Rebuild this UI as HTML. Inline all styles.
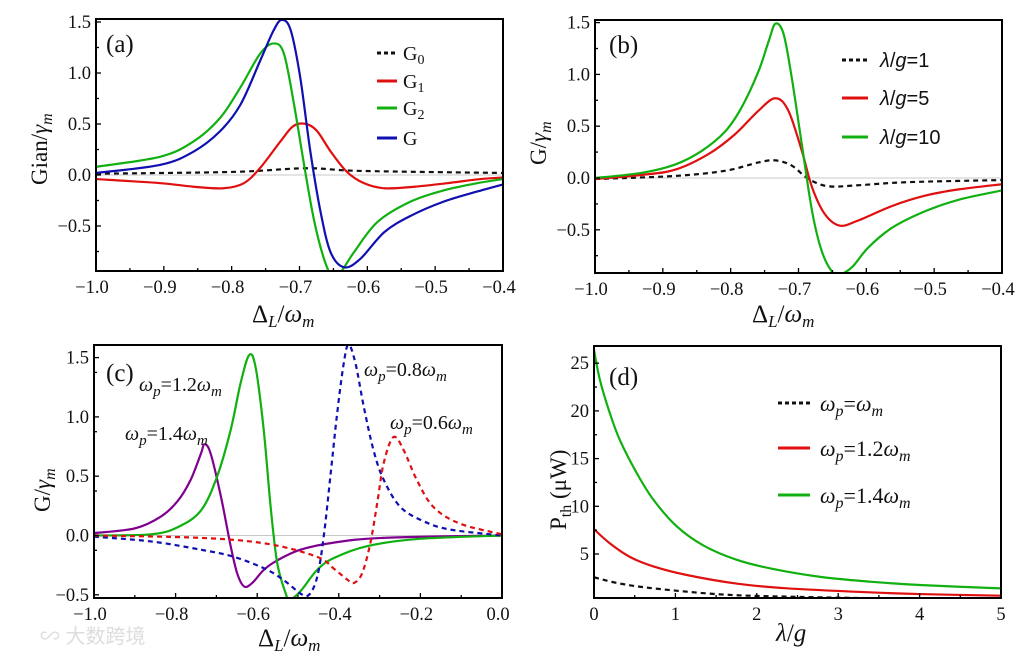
<!DOCTYPE html>
<html><head><meta charset="utf-8"><style>
html,body{margin:0;padding:0;background:#fff;}
svg{display:block;font-family:"Liberation Serif",serif;}
.tk{font-size:18.5px;fill:#111;}
</style></head><body>
<svg id="fig" width="1015" height="656" viewBox="0 0 1015 656" xmlns="http://www.w3.org/2000/svg">
<text x="40" y="643" font-family="'Liberation Sans','Noto Sans CJK SC',sans-serif" font-size="20" fill="#ddd">∽ 大数跨境</text>
</svg>
<script>
// ---------- Panel (a) data ----------
const aX_G0 = [-1.0,-0.8,-0.69,-0.61,-0.4];
const aY_G0 = [0.013,0.03,0.066,0.04,0.02];
const aX_G1 = [-1.0,-0.905,-0.856,-0.812,-0.782,-0.758,-0.728,-0.709,-0.69,-0.674,-0.654,-0.63,-0.605,-0.575,-0.531,-0.482,-0.433,-0.39];
const aY_G1 = [-0.04,-0.08,-0.115,-0.13,-0.08,0.07,0.33,0.48,0.5,0.43,0.23,0.03,-0.08,-0.13,-0.115,-0.08,-0.04,-0.02];
const aX_G2 = [-1.0,-0.905,-0.856,-0.817,-0.787,-0.758,-0.738,-0.723,-0.708,-0.694,-0.679,-0.664,-0.652,-0.64,-0.62,-0.585,-0.536,-0.487,-0.438,-0.39];
const aY_G2 = [0.08,0.18,0.33,0.56,0.86,1.19,1.29,1.19,0.69,0.13,-0.43,-0.82,-0.99,-0.96,-0.76,-0.46,-0.26,-0.15,-0.08,-0.03];
const aX_G = [-1.0,-0.905,-0.856,-0.817,-0.787,-0.758,-0.738,-0.726,-0.713,-0.699,-0.684,-0.669,-0.654,-0.634,-0.61,-0.575,-0.536,-0.487,-0.437,-0.393];
const aY_G = [0.02,0.1,0.23,0.43,0.69,1.12,1.42,1.52,1.42,0.96,0.23,-0.36,-0.76,-0.905,-0.82,-0.56,-0.4,-0.26,-0.16,-0.08];
// ---------- Panel (b) data ----------
const bX_L1 = [-1.0,-0.882,-0.808,-0.759,-0.734,-0.71,-0.685,-0.656,-0.612,-0.538,-0.4];
const bY_L1 = [-0.01,0.02,0.07,0.15,0.17,0.12,-0.01,-0.08,-0.07,-0.04,-0.02];
const bX_L5 = [-1.0,-0.931,-0.882,-0.833,-0.794,-0.759,-0.734,-0.715,-0.695,-0.68,-0.661,-0.639,-0.612,-0.562,-0.513,-0.464,-0.4];
const bY_L5 = [-0.01,0.03,0.08,0.23,0.42,0.65,0.77,0.65,0.26,-0.09,-0.35,-0.46,-0.41,-0.27,-0.17,-0.11,-0.06];
const bX_L10 = [-1.0,-0.931,-0.882,-0.843,-0.808,-0.784,-0.759,-0.744,-0.734,-0.722,-0.71,-0.695,-0.68,-0.666,-0.651,-0.639,-0.621,-0.597,-0.562,-0.513,-0.464,-0.4];
const bY_L10 = [0.0,0.05,0.13,0.26,0.45,0.68,1.03,1.32,1.49,1.39,0.97,0.32,-0.32,-0.7,-0.9,-0.93,-0.86,-0.67,-0.48,-0.32,-0.21,-0.12];
// ---------- Panel (c) data ----------
const cX_14 = [-1.0,-0.9,-0.836,-0.795,-0.763,-0.738,-0.729,-0.714,-0.689,-0.665,-0.649,-0.632,-0.612,-0.584,-0.551,-0.494,-0.412,-0.29,0.0];
const cY_14 = [0.02,0.06,0.16,0.29,0.47,0.69,0.77,0.69,0.33,-0.09,-0.32,-0.43,-0.4,-0.29,-0.21,-0.12,-0.06,-0.02,0.0];
const cX_12 = [-1.0,-0.86,-0.795,-0.738,-0.698,-0.665,-0.641,-0.62,-0.604,-0.584,-0.567,-0.551,-0.53,-0.52,-0.494,-0.453,-0.412,-0.331,-0.209,0.0];
const cY_12 = [0.0,0.01,0.07,0.21,0.5,0.89,1.28,1.52,1.42,0.89,0.24,-0.23,-0.49,-0.54,-0.47,-0.29,-0.19,-0.09,-0.03,0.0];
const cX_08 = [-1.0,-0.86,-0.738,-0.657,-0.575,-0.526,-0.494,-0.473,-0.453,-0.437,-0.42,-0.404,-0.388,-0.376,-0.359,-0.339,-0.315,-0.29,-0.249,-0.192,-0.127,0.0];
const cY_08 = [-0.01,-0.05,-0.12,-0.18,-0.29,-0.4,-0.49,-0.5,-0.35,-0.01,0.52,1.03,1.45,1.61,1.45,1.09,0.72,0.47,0.24,0.12,0.05,0.0];
const cX_06 = [-1.0,-0.738,-0.575,-0.453,-0.412,-0.38,-0.363,-0.343,-0.323,-0.306,-0.29,-0.266,-0.241,-0.209,-0.168,-0.103,0.0];
const cY_06 = [0.0,-0.02,-0.07,-0.18,-0.28,-0.37,-0.4,-0.32,-0.07,0.27,0.61,0.83,0.72,0.47,0.24,0.1,0.01];
// ---------- Panel (d) data ----------
const dX_10 = [0,0.32,0.73,1.55,2.37,3.6,5];
const dY_10 = [2.55,1.9,1.4,0.77,0.53,0.35,0.28];
const dX_12 = [0,0.197,0.44,0.73,1.14,1.75,2.37,3.19,4.0,5];
const dY_12 = [7.6,6.1,4.7,3.7,2.8,1.9,1.4,1.05,0.8,0.63];
const dX_14 = [0,0.074,0.197,0.32,0.524,0.729,1.016,1.343,1.75,2.16,2.78,3.39,4.0,5];
const dY_14 = [26.4,23.2,19.7,16.9,13.5,10.7,7.9,5.9,4.4,3.5,2.6,2.1,1.75,1.4];
// ---------- tick arrays ----------
const ticksA_x = [-1.0,-0.9,-0.8,-0.7,-0.6,-0.5,-0.4];
const ticksA_y = [1.5,1.0,0.5,0.0,-0.5];
const ticksC_x = [-1.0,-0.8,-0.6,-0.4,-0.2,0.0];
const ticksD_x = [0,1,2,3,4,5];
const ticksD_y = [25,20,15,10,5];

const NS='http://www.w3.org/2000/svg';
const svg=document.getElementById('fig');
function mk(tag,attrs,parent){const e=document.createElementNS(NS,tag);for(const k in attrs)e.setAttribute(k,attrs[k]);(parent||svg).appendChild(e);return e;}
function fmt(v){return (v<0?'\u2212':'')+Math.abs(v).toFixed(1);}

function panel(p){
  const g=mk('g',{});
  
  
  const X=v=>p.x0+(v-p.xmin)/(p.xmax-p.xmin)*(p.x1-p.x0);
  const Y=v=>p.yz-(v)*p.ys;
  const cid='clip-'+p.name;
  const cp=mk('clipPath',{id:cid},g);
  mk('rect',{x:p.x0,y:p.y0,width:p.x1-p.x0,height:p.y1-p.y0},cp);
  if(p.zero){const zl=mk('line',{x1:p.x0,x2:p.x1,y1:Y(0),y2:Y(0),stroke:'#c8c8c8','stroke-width':1},g);
    
    }
  const sg=mk('g',{'clip-path':'url(#'+cid+')'},g);
  p.series.forEach(s=>{
    const pts=s.xs.map((x,i)=>[X(x),Y(s.ys[i])]);
    let d='M'+pts[0][0].toFixed(2)+','+pts[0][1].toFixed(2);
    for(let i=0;i<pts.length-1;i++){
      const p0=pts[Math.max(0,i-1)],p1=pts[i],p2=pts[i+1],p3=pts[Math.min(pts.length-1,i+2)];
      const c1=[p1[0]+(p2[0]-p0[0])/6,p1[1]+(p2[1]-p0[1])/6];
      const c2=[p2[0]-(p3[0]-p1[0])/6,p2[1]-(p3[1]-p1[1])/6];
      d+=' C'+c1.map(v=>v.toFixed(2)).join(',')+' '+c2.map(v=>v.toFixed(2)).join(',')+' '+p2[0].toFixed(2)+','+p2[1].toFixed(2);
    }
    const a={d:d,fill:'none',stroke:s.color,'stroke-width':2.2,'stroke-linejoin':'round'};
    if(s.dash)a['stroke-dasharray']='5,4';
    const path=mk('path',a,sg);
    
    
  });
  const fr=mk('rect',{x:p.x0,y:p.y0,width:p.x1-p.x0,height:p.y1-p.y0,fill:'none',stroke:'#000','stroke-width':2},g);
  
  
  const xt=p.xticks;
  for(let i=0;i<xt.length;i++){
    const x=X(xt[i]);
    mk('line',{x1:x,x2:x,y1:p.y1,y2:p.y1-5,stroke:'#000','stroke-width':1.3},g);
    if(i<xt.length-1){const xm=X((xt[i]+xt[i+1])/2);mk('line',{x1:xm,x2:xm,y1:p.y1,y2:p.y1-3,stroke:'#000','stroke-width':1.3},g);}
    const t=mk('text',{x:x+(p.xint?0:-4),y:p.y1+22,'text-anchor':'middle',class:'tk'},g);
    t.textContent=p.xint?String(xt[i]):fmt(xt[i]);
    
    
  }
  const yt=p.yticks;
  for(let i=0;i<yt.length;i++){
    const y=Y(yt[i]);
    mk('line',{x1:p.x0,x2:p.x0+5,y1:y,y2:y,stroke:'#000','stroke-width':1.3},g);
    const ym=Y(yt[i]-p.ystep/2);
    if(ym<p.y1-2)mk('line',{x1:p.x0,x2:p.x0+3,y1:ym,y2:ym,stroke:'#000','stroke-width':1.3},g);
    const t=mk('text',{x:p.x0-5,y:y+6,'text-anchor':'end',class:'tk'},g);
    t.textContent=p.yint?String(yt[i]):fmt(yt[i]);
    
    
  }
  return g;
}
function html(g,x,y,size,content,name,extra){
  const t=mk('text',Object.assign({x:x,y:y,'font-size':size,fill:'#111'},extra||{}),g);
  t.innerHTML=content;
  
  
  return t;
}
function legLine(g,x1,x2,y,color,dash,name){
  const a={x1:x1,x2:x2,y1:y,y2:y,stroke:color,'stroke-width':3};
  if(dash)a['stroke-dasharray']='4,3';
  const l=mk('line',a,g);
  
  
}
const DL='Δ<tspan font-style="italic" font-size="17" dy="5">L</tspan><tspan dy="-5">/</tspan><tspan font-style="italic">ω</tspan><tspan font-style="italic" font-size="17" dy="5">m</tspan>';

// Panel a
const ga=panel({name:'panel-a',x0:96,x1:503,y0:19,y1:271,xmin:-1,xmax:-0.4,yz:175,ys:102,xticks:ticksA_x,yticks:ticksA_y,ystep:0.5,zero:true,
 series:[{name:'series-g0',xs:aX_G0,ys:aY_G0,color:'#111',dash:true},{name:'series-g1',xs:aX_G1,ys:aY_G1,color:'#e01010'},{name:'series-g2',xs:aX_G2,ys:aY_G2,color:'#10b010'},{name:'series-g',xs:aX_G,ys:aY_G,color:'#1010b0'}]});
html(ga,106,52,25,'(a)','panel-label-a');
html(ga,252,322,25,DL,'x-axis-title-a');
html(ga,0,0,23,'Gian/<tspan font-style="italic">γ</tspan><tspan font-style="italic" font-size="16" dy="5">m</tspan>','y-axis-title-a',{transform:'translate(47,185) rotate(-90)'});
[['G<tspan font-size="14" dy="4">0</tspan>','#111',true,53],['G<tspan font-size="14" dy="4">1</tspan>','#e01010',false,81],['G<tspan font-size="14" dy="4">2</tspan>','#10b010',false,108],['G','#1010b0',false,138]].forEach((e,i)=>{
  legLine(ga,377,397,e[3],e[1],e[2],'legend-line-a');
  html(ga,403,e[3]+7,20,e[0],'legend-entry-a');
});

// Panel b
const gb=panel({name:'panel-b',x0:595,x1:1002,y0:20,y1:273,xmin:-1,xmax:-0.4,yz:178,ys:103.6,xticks:ticksA_x,yticks:ticksA_y,ystep:0.5,zero:true,
 series:[{name:'series-lambda1',xs:bX_L1,ys:bY_L1,color:'#111',dash:true},{name:'series-lambda5',xs:bX_L5,ys:bY_L5,color:'#e01010'},{name:'series-lambda10',xs:bX_L10,ys:bY_L10,color:'#10b010'}]});
html(gb,609,53,25,'(b)','panel-label-b');
html(gb,752,322,25,DL,'x-axis-title-b');
html(gb,0,0,23,'G/<tspan font-style="italic">γ</tspan><tspan font-style="italic" font-size="16" dy="5">m</tspan>','y-axis-title-b',{transform:'translate(546,165) rotate(-90)'});
[['1','#111',true,60],['5','#e01010',false,98],['10','#10b010',false,137]].forEach(e=>{
  legLine(gb,842,868,e[3],e[1],e[2],'legend-line-b');
  html(gb,880,e[3]+7,20,'<tspan font-style="italic">λ</tspan>/<tspan font-style="italic">g</tspan>='+e[0],'legend-entry-b',{'font-family':'"Liberation Sans",sans-serif'});
});

// Panel c
const gc=panel({name:'panel-c',x0:94,x1:502,y0:345,y1:598,xmin:-1,xmax:0,yz:535.5,ys:118.6,xticks:ticksC_x,yticks:ticksA_y,ystep:0.25,zero:true,
 series:[{name:'series-wp14',xs:cX_14,ys:cY_14,color:'#800090'},{name:'series-wp12',xs:cX_12,ys:cY_12,color:'#10b010'},{name:'series-wp08',xs:cX_08,ys:cY_08,color:'#1010b0',dash:true},{name:'series-wp06',xs:cX_06,ys:cY_06,color:'#e01010',dash:true}]});
html(gc,106,381,25,'(c)','panel-label-c');
html(gc,258,646,25,DL,'x-axis-title-c');
html(gc,0,0,23,'G/<tspan font-style="italic">γ</tspan><tspan font-style="italic" font-size="16" dy="5">m</tspan>','y-axis-title-c',{transform:'translate(50,512) rotate(-90)'});
const W=(a,s)=>'<tspan font-style="italic">ω</tspan><tspan font-style="italic" font-size="'+s+'" dy="5">p</tspan><tspan dy="-5">='+a+'</tspan><tspan font-style="italic">ω</tspan><tspan font-style="italic" font-size="'+s+'" dy="5">m</tspan>';
html(gc,139,391,20,W('1.2',15),'annotation-wp12');
html(gc,125,440,20,W('1.4',15),'annotation-wp14');
html(gc,364,376,20,W('0.8',15),'annotation-wp08');
html(gc,390,429,20,W('0.6',15),'annotation-wp06');

// Panel d
const gd=panel({name:'panel-d',x0:594,x1:1001,y0:346,y1:598,xmin:0,xmax:5,yz:601.7,ys:9.54,xticks:ticksD_x,yticks:ticksD_y,ystep:5,xint:true,yint:true,
 series:[{name:'series-wp-eq',xs:dX_10,ys:dY_10,color:'#111',dash:true},{name:'series-wp-1-2',xs:dX_12,ys:dY_12,color:'#e01010'},{name:'series-wp-1-4',xs:dX_14,ys:dY_14,color:'#10b010'}]});
html(gd,609,385,25,'(d)','panel-label-d');
html(gd,776,641,25,'<tspan font-style="italic">λ</tspan>/<tspan font-style="italic">g</tspan>','x-axis-title-d');
html(gd,0,0,23,'P<tspan font-size="16" dy="5">th</tspan><tspan dy="-5">  (μW)</tspan>','y-axis-title-d',{transform:'translate(566,530) rotate(-90)'});
legLine(gd,778,810,403,'#111',true,'legend-line-d');
html(gd,820,411,22,'<tspan font-style="italic">ω</tspan><tspan font-style="italic" font-size="16" dy="5">p</tspan><tspan dy="-5">=</tspan><tspan font-style="italic">ω</tspan><tspan font-style="italic" font-size="16" dy="5">m</tspan>','legend-entry-d');
legLine(gd,778,810,448,'#e01010',false,'legend-line-d');
html(gd,820,456,22,W('1.2',16),'legend-entry-d');
legLine(gd,778,810,495,'#10b010',false,'legend-line-d');
html(gd,820,503,22,W('1.4',16),'legend-entry-d');
</script>
</body></html>
